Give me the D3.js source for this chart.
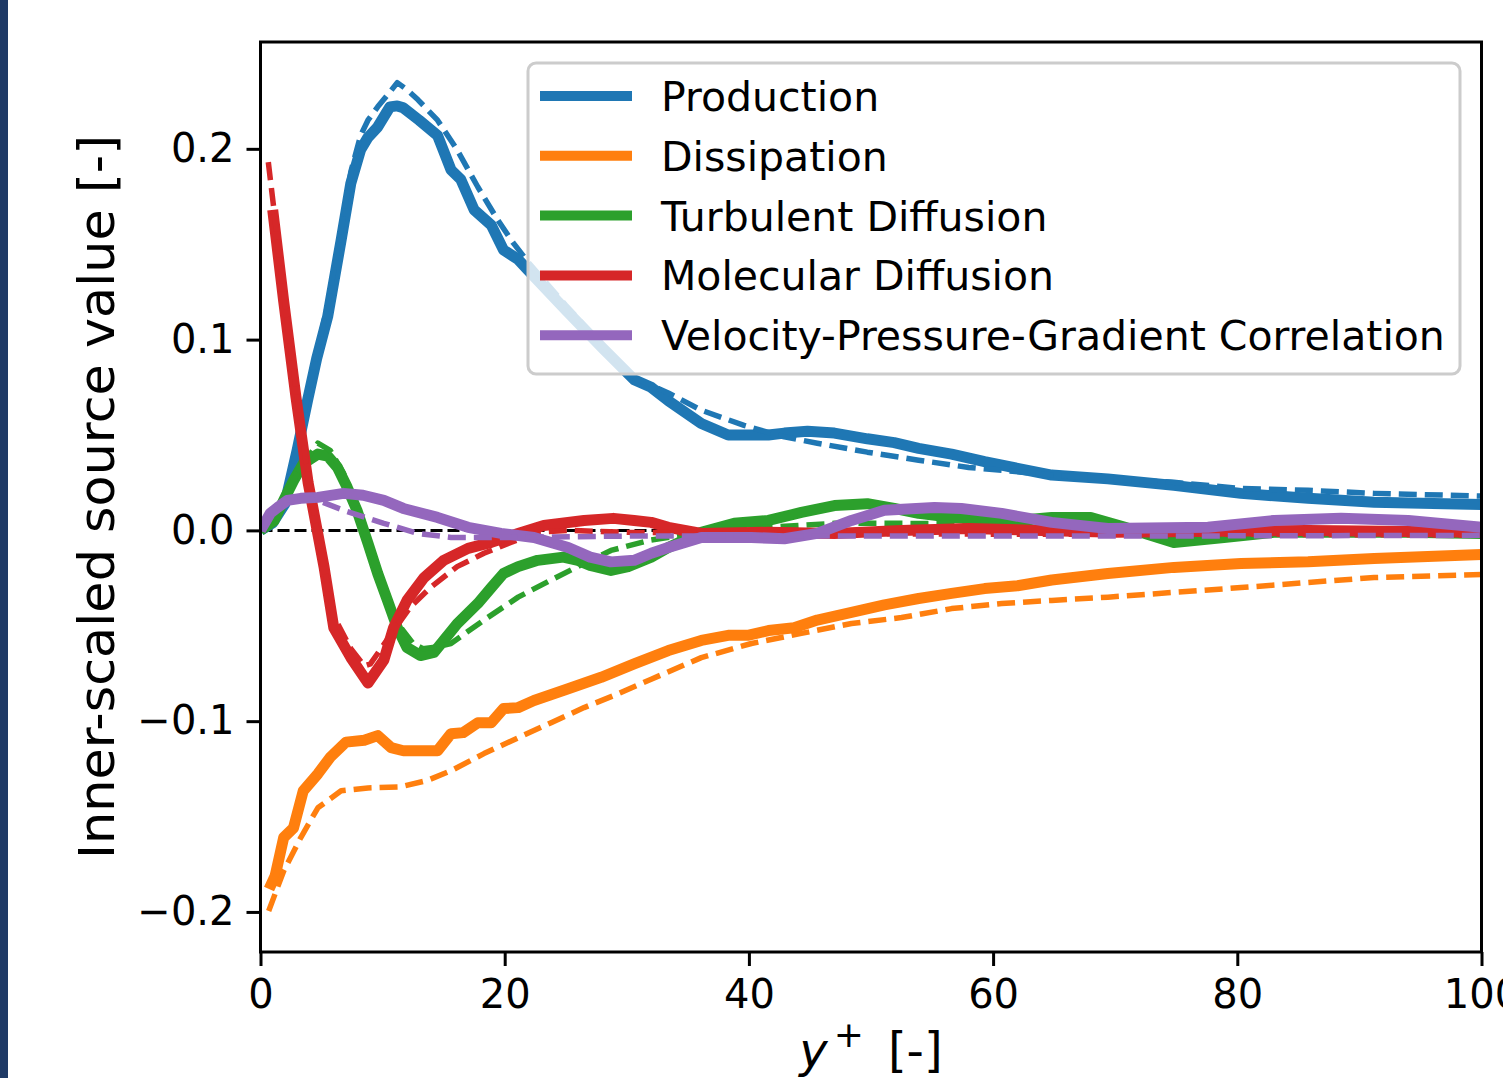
<!DOCTYPE html>
<html>
<head>
<meta charset="utf-8">
<script src="https://cdn.jsdelivr.net/npm/d3@7"></script>
<style>
  html, body { margin: 0; padding: 0; background: #ffffff; }
  svg { display: block; font-family: "DejaVu Sans", sans-serif; }
</style>
</head>
<body>
<svg id="chart" width="1503" height="1078"></svg>
<script>
// ---------------- data ----------------
const seriesNames = ["Production", "Dissipation", "Turbulent Diffusion", "Molecular Diffusion", "Velocity-Pressure-Gradient Correlation"];
const seriesColors = ["#1f77b4", "#ff7f0e", "#2ca02c", "#d62728", "#9467bd"];
const xTicks = [0, 20, 40, 60, 80, 100];
const yTicks = [-0.2, -0.1, 0.0, 0.1, 0.2];
const yTickLabels = ["\u22120.2", "\u22120.1", "0.0", "0.1", "0.2"];
const xTickLabels = ["0", "20", "40", "60", "80", "100"];

const productionSolid = [[0,0],[1,0.004],[2,0.014],[3,0.042],[3.85,0.068],[4.6,0.09],[5.5,0.112],[6.6,0.152],[7.4,0.182],[8.2,0.1995],[8.8,0.206],[9.6,0.2115],[10.6,0.222],[11.2,0.2225],[11.7,0.2215],[13.0,0.215],[14.5,0.207],[15.6,0.189],[16.4,0.184],[17.5,0.168],[18.9,0.160],[19.9,0.147],[21.1,0.142],[21.9,0.1365],[25,0.1155],[28,0.0957],[30.6,0.079],[32,0.075],[33.4,0.068],[36.1,0.056],[38.3,0.050],[40.2,0.050],[41.6,0.050],[42.9,0.051],[44.8,0.052],[47.0,0.051],[49.7,0.048],[51.9,0.046],[53.9,0.043],[56.6,0.040],[59.3,0.036],[62.0,0.0325],[64.8,0.029],[69.4,0.027],[74.8,0.0236],[80.3,0.0194],[85.8,0.0168],[91.2,0.0147],[100,0.0136]];
const productionDashed = [[0,0],[1,0.004],[2,0.015],[3,0.043],[3.85,0.07],[4.6,0.093],[5.5,0.118],[6.6,0.158],[7.4,0.188],[8.2,0.207],[8.8,0.215],[9.6,0.222],[10.5,0.229],[11.2,0.2347],[12.0,0.231],[12.9,0.2257],[14.5,0.215],[16.1,0.1995],[17.8,0.180],[19.4,0.163],[20.7,0.1507],[22,0.140],[25,0.118],[28,0.097],[30.6,0.080],[32,0.076],[33.4,0.072],[36.1,0.063],[39.6,0.055],[42.9,0.049],[45.6,0.0457],[49.7,0.041],[53.9,0.0368],[58.0,0.033],[60.7,0.0315],[64.8,0.029],[69.4,0.027],[74.8,0.0252],[80.3,0.022],[85.8,0.021],[91.2,0.0194],[100,0.018]];

const dissipationSolid = [[0.7,-0.188],[1.2,-0.181],[1.9,-0.161],[2.7,-0.156],[3.5,-0.1365],[4.7,-0.1276],[5.7,-0.119],[7.0,-0.111],[8.5,-0.110],[9.6,-0.1076],[10.7,-0.1139],[11.7,-0.1155],[14.5,-0.1155],[15.6,-0.1066],[16.6,-0.106],[17.8,-0.1008],[18.9,-0.1008],[19.9,-0.0934],[21.1,-0.0929],[22.4,-0.0892],[25.2,-0.083],[27.9,-0.077],[30.6,-0.070],[33.4,-0.063],[36.1,-0.0577],[38.3,-0.055],[39.9,-0.055],[41.6,-0.0525],[43.7,-0.051],[45.6,-0.047],[48.4,-0.043],[51.1,-0.039],[53.9,-0.0357],[56.6,-0.033],[59.3,-0.0305],[62.0,-0.029],[64.8,-0.026],[69.4,-0.0226],[74.8,-0.0194],[80.3,-0.0173],[85.8,-0.0165],[91.2,-0.0147],[100,-0.0126]];
const dissipationDashed = [[0.67,-0.1995],[1.9,-0.1785],[3.3,-0.161],[4.7,-0.1454],[6.6,-0.1365],[8.8,-0.135],[11.5,-0.1344],[13.7,-0.131],[15.6,-0.126],[18.3,-0.117],[21.1,-0.1087],[23.8,-0.1008],[26.5,-0.0929],[29.3,-0.0856],[32.0,-0.078],[36.1,-0.0667],[40.2,-0.0593],[44.3,-0.054],[48.4,-0.0488],[52.5,-0.0457],[56.6,-0.041],[60.7,-0.0383],[64.8,-0.0367],[69.4,-0.035],[74.8,-0.0325],[80.3,-0.030],[85.8,-0.0273],[91.2,-0.0247],[100,-0.0231]];

const turbulentSolid = [[0,0],[1.1,0.005],[1.9,0.0157],[2.7,0.026],[3.5,0.035],[4.7,0.040],[5.5,0.039],[6.3,0.033],[7.1,0.0226],[7.9,0.0105],[8.8,-0.0068],[9.6,-0.0226],[10.4,-0.0367],[11.2,-0.051],[12.0,-0.0614],[13.1,-0.0656],[14.2,-0.064],[15.0,-0.0577],[16.1,-0.049],[17.8,-0.0383],[18.9,-0.030],[19.9,-0.0226],[21.1,-0.019],[22.7,-0.0157],[24.8,-0.014],[26.0,-0.0157],[27.0,-0.0184],[28.7,-0.021],[30.1,-0.019],[32.0,-0.014],[33.4,-0.009],[36.1,-0.001],[38.8,0.0037],[41.6,0.0052],[44.3,0.0094],[47.0,0.013],[49.7,0.014],[51.9,0.0115],[53.9,0.0089],[56.6,0.0068],[59.3,0.0058],[62.0,0.0052],[64.8,0.0068],[68.0,0.0068],[70.8,0.0016],[74.8,-0.0063],[78.9,-0.0037],[83.0,-0.001],[88.5,-0.001],[94.0,-0.001],[100,-0.0016]];
const turbulentDashed = [[0,0],[1.1,0.006],[1.9,0.017],[3.3,0.033],[4.7,0.0457],[5.7,0.042],[6.8,0.030],[7.9,0.012],[8.8,-0.006],[9.6,-0.022],[10.4,-0.036],[11.5,-0.051],[12.5,-0.0593],[13.3,-0.062],[14.5,-0.061],[15.6,-0.0593],[18.3,-0.047],[21.1,-0.035],[23.8,-0.026],[26.5,-0.0173],[28.7,-0.0105],[32.0,-0.005],[36.1,-0.001],[41.6,0.0016],[47.0,0.0037],[52.5,0.0037],[58,0.0035],[64.5,0.002],[69,0.0016],[80.3,0.0],[100,0.0]];

const molecularSolid = [[1.0,0.168],[1.9,0.12],[2.9,0.07],[3.9,0.025],[4.7,-0.002],[5.2,-0.019],[6.0,-0.051],[7.4,-0.0667],[8.8,-0.080],[10.1,-0.068],[10.9,-0.051],[12.0,-0.0367],[13.4,-0.0247],[15.0,-0.0157],[17.0,-0.0094],[18.9,-0.0063],[21.1,-0.0016],[23.2,0.0026],[26.5,0.0052],[28.9,0.0063],[30.6,0.0052],[32.0,0.0042],[33.4,0.0016],[36.1,-0.0016],[41.6,-0.001],[47.0,-0.0016],[52.5,0],[58,0.001],[64,0],[70,-0.001],[85.8,0.0],[100,-0.001]];
const molecularDashed = [[0.64,0.193],[1.9,0.125],[2.9,0.075],[3.9,0.028],[4.7,-0.003],[6.0,-0.045],[7.4,-0.062],[8.5,-0.071],[9.0,-0.070],[10.9,-0.0525],[12.3,-0.040],[13.9,-0.030],[16.1,-0.019],[18.3,-0.012],[20.5,-0.0063],[22.7,-0.001],[25.2,0],[30,-0.001],[40,-0.0015],[60,-0.002],[80,-0.002],[100,-0.0025]];

const pressureSolid = [[0,0],[0.8,0.009],[1.4,0.012],[2.2,0.0157],[3.3,0.0168],[4.7,0.0173],[6.8,0.0194],[8.4,0.0184],[10.1,0.0157],[11.7,0.0115],[14.5,0.0068],[17.0,0.0016],[19.7,-0.0016],[22.4,-0.0037],[25.2,-0.009],[27.0,-0.014],[28.7,-0.0165],[30.6,-0.0157],[32.0,-0.012],[33.4,-0.009],[36.1,-0.0037],[40.2,-0.0037],[42.9,-0.0044],[45.6,-0.0016],[48.4,0.0052],[51.1,0.0105],[55.2,0.012],[57.4,0.0115],[60.7,0.0089],[64.8,0.0042],[69.4,0.001],[77.6,0.0016],[83.0,0.0052],[88.5,0.0063],[94.0,0.0052],[100,0.0016]];
const pressureDashed = [[0,0],[1.0,0.009],[1.9,0.0157],[3.3,0.017],[4.7,0.0157],[6.8,0.0105],[10.1,0.0037],[12.9,-0.0016],[15.6,-0.0037],[20,-0.0037],[30,-0.003],[50,-0.003],[70,-0.003],[100,-0.0026]];

const solidSeries = [productionSolid, dissipationSolid, turbulentSolid, molecularSolid, pressureSolid];
const dashedSeries = [productionDashed, dissipationDashed, turbulentDashed, molecularDashed, pressureDashed];
const xDomain = [0, 100];
const yDomain = [-0.221, 0.256];

// ---------------- layout ----------------
const svg = d3.select("#chart");
const L = 260.5, R = 1481.5, T = 42, B = 952;
const x = d3.scaleLinear().domain(xDomain).range([L, R]);
const y = d3.scaleLinear().domain(yDomain).range([B, T]);

// navy strip on the left edge
svg.append("rect").attr("x", 0).attr("y", 0).attr("width", 8).attr("height", 1078).attr("fill", "#1f3a66");

svg.append("defs").append("clipPath").attr("id", "plotclip")
  .append("rect").attr("x", L).attr("y", T).attr("width", R - L).attr("height", B - T);

const plot = svg.append("g").attr("clip-path", "url(#plotclip)");

// zero line
plot.append("line")
  .attr("x1", x(0)).attr("x2", x(100)).attr("y1", y(0)).attr("y2", y(0))
  .attr("stroke", "#000").attr("stroke-width", 3).attr("stroke-dasharray", "12,5");

const line = d3.line().x(d => x(d[0])).y(d => y(d[1]));

for (let i = 0; i < seriesNames.length; i++) {
  plot.append("path").datum(solidSeries[i])
    .attr("d", line).attr("fill", "none")
    .attr("stroke", seriesColors[i]).attr("stroke-width", 11)
    .attr("stroke-linejoin", "round").attr("stroke-linecap", "butt");
  plot.append("path").datum(dashedSeries[i])
    .attr("d", line).attr("fill", "none")
    .attr("stroke", seriesColors[i]).attr("stroke-width", 5.5)
    .attr("stroke-linejoin", "round").attr("stroke-linecap", "butt")
    .attr("stroke-dasharray", "18,8");
}

// axes frame
svg.append("rect").attr("x", L).attr("y", T).attr("width", R - L).attr("height", B - T)
  .attr("fill", "none").attr("stroke", "#000").attr("stroke-width", 3);

// x axis
const xAxis = d3.axisBottom(x).tickValues(xTicks).tickSize(14).tickPadding(14)
  .tickFormat((d, i) => xTickLabels[i]);
const gx = svg.append("g").attr("transform", `translate(0,${B})`).call(xAxis);
gx.select(".domain").remove();
gx.selectAll(".tick line").attr("stroke", "#000").attr("stroke-width", 3);
gx.selectAll(".tick text").attr("font-size", 40).attr("font-family", "DejaVu Sans").attr("fill", "#000");

// y axis
const yAxis = d3.axisLeft(y).tickValues(yTicks).tickSize(14).tickPadding(12)
  .tickFormat((d, i) => yTickLabels[i]);
const gy = svg.append("g").attr("transform", `translate(${L},0)`).call(yAxis);
gy.select(".domain").remove();
gy.selectAll(".tick line").attr("stroke", "#000").attr("stroke-width", 3);
gy.selectAll(".tick text").attr("font-size", 40).attr("font-family", "DejaVu Sans").attr("fill", "#000");

// y label
svg.append("text")
  .attr("transform", `translate(114,${(T + B) / 2}) rotate(-90)`)
  .attr("text-anchor", "middle")
  .attr("font-size", 50).attr("fill", "#000")
  .attr("textLength", 724).attr("lengthAdjust", "spacingAndGlyphs")
  .text("Inner-scaled source value [-]");

// x label  y^+ [-]
const xl = svg.append("text")
  .attr("x", (L + R) / 2).attr("y", 1067)
  .attr("text-anchor", "middle")
  .attr("font-size", 48).attr("fill", "#000");
xl.append("tspan").attr("font-style", "italic").text("y");
xl.append("tspan").attr("font-size", 36).attr("dx", 6).attr("dy", -20).text("+");
xl.append("tspan").attr("dy", 20).text("\u2002[-]");

// legend
const lg = svg.append("g");
lg.append("rect").attr("x", 528).attr("y", 63).attr("width", 932).attr("height", 311)
  .attr("rx", 8).attr("ry", 8)
  .attr("fill", "#ffffff").attr("fill-opacity", 0.8)
  .attr("stroke", "#cccccc").attr("stroke-width", 3);
seriesNames.forEach((name, i) => {
  const cy = 96 + i * 59.8;
  lg.append("line").attr("x1", 540).attr("x2", 632).attr("y1", cy).attr("y2", cy)
    .attr("stroke", seriesColors[i]).attr("stroke-width", 10);
  lg.append("text").attr("x", 661).attr("y", cy + 15)
    .attr("font-size", 41).attr("fill", "#000").text(name);
});
</script>
</body>
</html>
